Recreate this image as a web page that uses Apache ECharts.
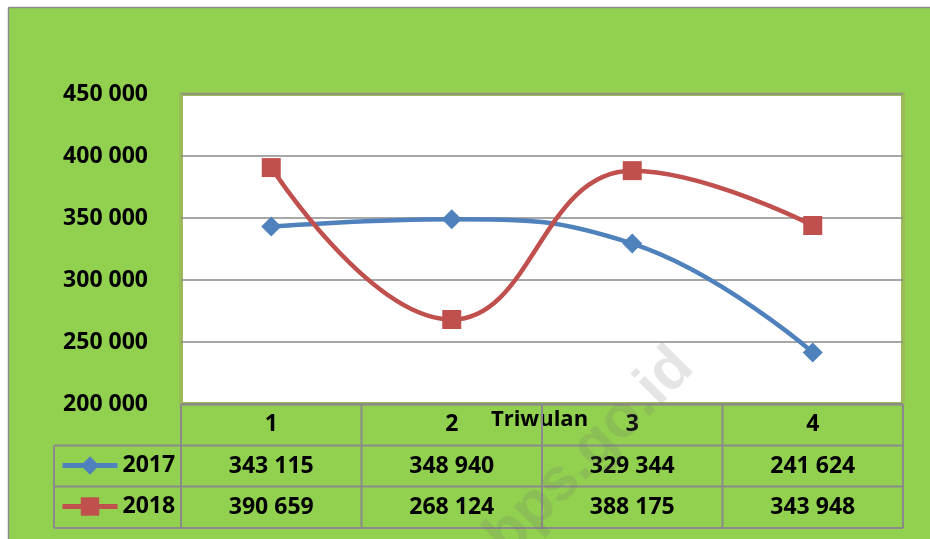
<!DOCTYPE html>
<html>
<head>
  <meta charset="utf-8">
  <script src="https://cdn.jsdelivr.net/npm/echarts@6/dist/echarts.min.js"></script>
  <style>
    html, body { margin: 0; padding: 0; background: #fff; }
    #main { width: 930px; height: 539px; }
  </style>
  <title>Triwulan 2017 - 2018</title>
  <script type="text/javascript">
    // data
    const categories = ['1', '2', '3', '4'];
    const years = ['2017', '2018'];
    const values2017 = [343115, 348940, 329344, 241624];
    const values2018 = [390659, 268124, 388175, 343948];
    const yTicks = [200000, 250000, 300000, 350000, 400000, 450000];

    const FONT = '"Open Sans", sans-serif';
    const FS = 23;
    const GREEN = '#92D050';
    const LINE_GRAY = '#8a8a8a';
    const COLORS = ['#4F81BD', '#C0504D'];

    function fmt(n) {
      return String(n).replace(/\B(?=(\d{3})+(?!\d))/g, ' ');
    }

    function init() {
      const chart = echarts.init(document.getElementById('main'), null, { renderer: 'canvas' });
      const option = {
        backgroundColor: GREEN,
        animation: false,
        textStyle: { fontFamily: FONT },
        grid: {
          left: 181, right: 27, top: 94, bottom: 135,
          show: true, backgroundColor: '#ffffff',
          borderColor: '#9BBB59', borderWidth: 4
        },
        legend: {
          orient: 'vertical',
          left: 60, top: 454, padding: 0,
          itemWidth: 55, itemHeight: 23, itemGap: 18,
          data: years,
          lineStyle: { width: 5 },
          textStyle: { fontFamily: FONT, fontWeight: 'bold', fontSize: FS, color: '#000', lineHeight: 23 }
        },
        xAxis: {
          type: 'category',
          data: categories,
          boundaryGap: true,
          name: 'Triwulan',
          nameLocation: 'middle',
          nameGap: 5,
          nameMoveOverlap: false,
          nameTextStyle: {
            fontFamily: FONT, fontWeight: 'bold', fontSize: 22, color: '#000',
            verticalAlign: 'top', padding: [0, 0, 0, -5]
          },
          axisLine: { show: false },
          axisTick: { show: false },
          axisLabel: { fontFamily: FONT, fontWeight: 'bold', fontSize: FS, color: '#000', margin: 9 }
        },
        yAxis: {
          type: 'value',
          min: yTicks[0],
          max: yTicks[yTicks.length - 1],
          interval: 50000,
          axisLine: { show: false },
          axisTick: { show: false },
          splitLine: { lineStyle: { color: LINE_GRAY, width: 1.5 } },
          axisLabel: {
            fontFamily: FONT, fontWeight: 'bold', fontSize: FS, color: '#000', margin: 33,
            formatter: fmt
          }
        },
        series: [
          {
            name: years[0], type: 'line', data: values2017,
            smooth: 0.45, symbol: 'diamond', symbolSize: 20,
            itemStyle: { color: COLORS[0] },
            lineStyle: { color: COLORS[0], width: 4.5 },
            z: 3
          },
          {
            name: years[1], type: 'line', data: values2018,
            smooth: 0.45, symbol: 'rect', symbolSize: 19,
            itemStyle: { color: COLORS[1] },
            lineStyle: { color: COLORS[1], width: 4.5 },
            z: 3
          }
        ]
      };
      chart.setOption(option);

      // table built around the category axis
      const half = (chart.convertToPixel({ xAxisIndex: 0 }, categories[1]) -
                    chart.convertToPixel({ xAxisIndex: 0 }, categories[0])) / 2;
      const centers = categories.map(c => chart.convertToPixel({ xAxisIndex: 0 }, c));
      const xLeft = centers[0] - half;
      const xRight = centers[centers.length - 1] + half;
      const legendLeft = 54;
      const rows = [404.5, 445.5, 486.5, 528];
      const rowCenters = [466, 507];
      const lineStyle = { stroke: LINE_GRAY, lineWidth: 2 };

      const graphics = [];
      // white margin and outer border
      graphics.push({ type: 'rect', shape: { x: 0, y: 0, width: 930, height: 7 }, style: { fill: '#fff' }, z: 100 });
      graphics.push({ type: 'rect', shape: { x: 0, y: 0, width: 8, height: 539 }, style: { fill: '#fff' }, z: 100 });
      graphics.push({ type: 'line', shape: { x1: 8.5, y1: 7.5, x2: 930, y2: 7.5 }, style: { stroke: '#8c8c8c', lineWidth: 1.5 }, z: 101 });
      graphics.push({ type: 'line', shape: { x1: 8.5, y1: 7.5, x2: 8.5, y2: 539 }, style: { stroke: '#8c8c8c', lineWidth: 1.5 }, z: 101 });

      // horizontal table lines
      graphics.push({ type: 'line', shape: { x1: xLeft, y1: rows[0], x2: xRight, y2: rows[0] }, style: lineStyle, z: 100 });
      for (let i = 1; i < rows.length; i++) {
        graphics.push({ type: 'line', shape: { x1: legendLeft, y1: rows[i], x2: xRight, y2: rows[i] }, style: lineStyle, z: 100 });
      }
      // vertical table lines
      graphics.push({ type: 'line', shape: { x1: legendLeft, y1: rows[1], x2: legendLeft, y2: rows[3] }, style: lineStyle, z: 100 });
      for (let i = 0; i <= categories.length; i++) {
        const x = xLeft + i * 2 * half;
        graphics.push({ type: 'line', shape: { x1: x, y1: rows[0], x2: x, y2: rows[3] }, style: lineStyle, z: 100 });
      }
      // cell values
      [values2017, values2018].forEach((vals, r) => {
        vals.forEach((v, i) => {
          graphics.push({
            type: 'text', x: centers[i], y: rowCenters[r], z: 100,
            style: {
              text: fmt(v), fontFamily: FONT, fontWeight: 'bold', fontSize: FS, fill: '#000',
              align: 'center', verticalAlign: 'middle'
            }
          });
        });
      });
      // watermark
      graphics.push({
        type: 'text', x: 590, y: 452, rotation: Math.PI / 4, z: 120,
        style: {
          text: 'bps.go.id', fontFamily: '"Liberation Sans", sans-serif', fontWeight: 'bold', fontSize: 60,
          fill: 'rgba(110,110,110,0.18)', align: 'center', verticalAlign: 'middle'
        }
      });

      chart.setOption({ graphic: graphics });
    }
  </script>
</head>
<body onload="init()">
  <div id="main"></div>
</body>
</html>
